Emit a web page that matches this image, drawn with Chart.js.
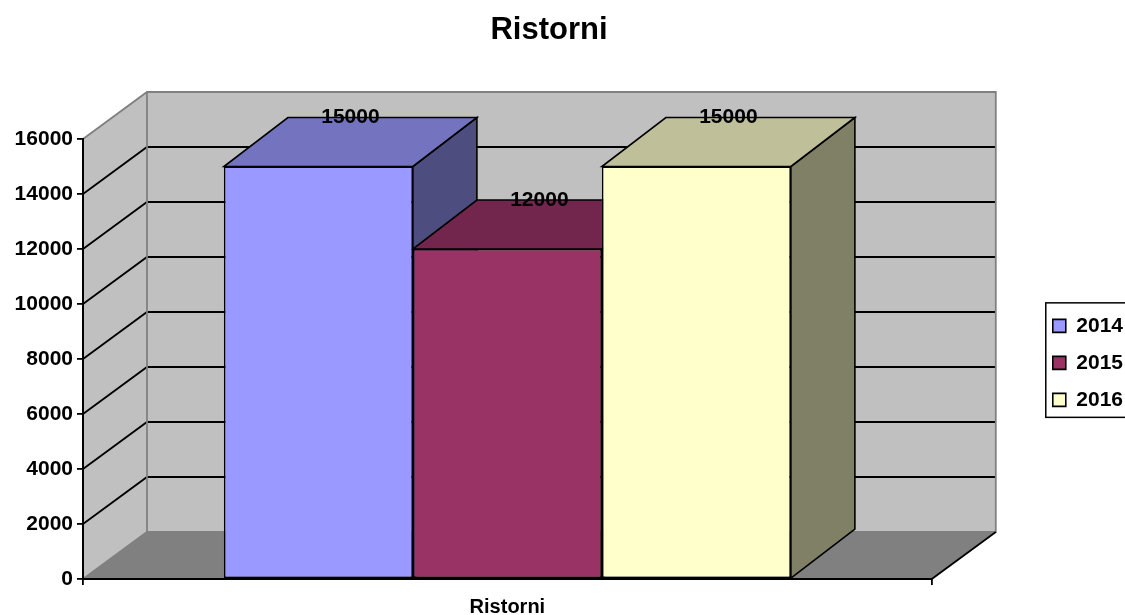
<!DOCTYPE html>
<html>
<head>
<meta charset="utf-8">
<title>Ristorni</title>
<script src="https://cdn.jsdelivr.net/npm/chart.js@4.4.1/dist/chart.umd.min.js"></script>
<style>
    html, body { margin: 0; padding: 0; background: #fff; }
    #wrap { width: 1125px; height: 615px; }
</style>
</head>
<body>
<div id="wrap"><canvas id="ristorniChart"></canvas></div>
<script>
/****************************** Data ********************************/
const categories = ['Ristorni'];
const seriesNames = ['2014', '2015', '2016'];
const values2014 = [15000];
const values2015 = [12000];
const values2016 = [15000];
const yTicks = [0, 2000, 4000, 6000, 8000, 10000, 12000, 14000, 16000];

const seriesValues = [values2014, values2015, values2016];
const barColors = ['#9999FF', '#993366', '#FFFFCC'];

/****************************** 3D look ********************************/
const wallDepth = { x: 64, y: 47 };  // offset of the back wall from the front plane
const barDepth = { x: 64, y: 49 };   // depth of each column

// darker version of a colour for the top / side faces
function shade(hex, f) {
    const n = parseInt(hex.slice(1), 16);
    const r = Math.round(((n >> 16) & 255) * f);
    const g = Math.round(((n >> 8) & 255) * f);
    const b = Math.round((n & 255) * f);
    return 'rgb(' + r + ',' + g + ',' + b + ')';
}

function path(ctx, pts) {
    ctx.beginPath();
    ctx.moveTo(pts[0][0], pts[0][1]);
    for (let i = 1; i < pts.length; i++) ctx.lineTo(pts[i][0], pts[i][1]);
}

const walls3d = {
    id: 'walls3d',
    afterLayout(chart) {
        // Excel centres the title a bit left of the canvas centre
        const t = chart.titleBlock;
        t.right = t.left + 1098;
    },
    beforeDraw(chart) {
        const { ctx, chartArea: a } = chart;
        const y = chart.scales.y;
        const dx = wallDepth.x, dy = wallDepth.y;
        const top = y.getPixelForValue(yTicks[yTicks.length - 1]);
        const bottom = y.getPixelForValue(yTicks[0]);

        ctx.save();
        // side wall + back wall
        ctx.fillStyle = '#C0C0C0';
        path(ctx, [[a.left, bottom], [a.left, top], [a.left + dx, top - dy], [a.left + dx, bottom - dy]]);
        ctx.closePath();
        ctx.fill();
        ctx.fillRect(a.left + dx, top - dy, a.right - a.left, bottom - top);

        // floor
        ctx.fillStyle = '#808080';
        path(ctx, [[a.left, bottom], [a.right, bottom], [a.right + dx, bottom - dy], [a.left + dx, bottom - dy]]);
        ctx.closePath();
        ctx.fill();

        // grid lines: diagonal on the side wall, horizontal on the back wall
        ctx.strokeStyle = '#000';
        ctx.lineWidth = 1.8;
        yTicks.slice(1, -1).forEach(v => {
            const p = y.getPixelForValue(v);
            path(ctx, [[a.left, p], [a.left + dx, p - dy], [a.right + dx, p - dy]]);
            ctx.stroke();
        });

        // gray wall edges
        ctx.strokeStyle = '#808080';
        ctx.lineWidth = 1.8;
        path(ctx, [[a.left, top], [a.left + dx, top - dy], [a.right + dx, top - dy], [a.right + dx, bottom - dy], [a.left + dx, bottom - dy], [a.left, bottom]]);
        ctx.stroke();
        path(ctx, [[a.left + dx, top - dy], [a.left + dx, bottom - dy]]);
        ctx.stroke();

        // front-right floor edge is black
        ctx.strokeStyle = '#000';
        path(ctx, [[a.right, bottom], [a.right + dx, bottom - dy]]);
        ctx.stroke();
        ctx.restore();
    },
    beforeDatasetsDraw(chart) {
        const ctx = chart.ctx;
        const dx = barDepth.x, dy = barDepth.y;
        ctx.save();
        ctx.strokeStyle = '#000';
        ctx.lineWidth = 1.6;
        chart.data.datasets.forEach((ds, i) => {
            const meta = chart.getDatasetMeta(i);
            if (meta.hidden) return;
            meta.data.forEach(bar => {
                const { x, y, base, width } = bar.getProps(['x', 'y', 'base', 'width'], true);
                const l = x - width / 2, r = x + width / 2;
                // side face
                path(ctx, [[r, y], [r + dx, y - dy], [r + dx, base - dy], [r, base]]);
                ctx.closePath();
                ctx.fillStyle = shade(ds.backgroundColor, 0.5);
                ctx.fill();
                ctx.stroke();
                // top face
                path(ctx, [[l, y], [r, y], [r + dx, y - dy], [l + dx, y - dy]]);
                ctx.closePath();
                ctx.fillStyle = shade(ds.backgroundColor, 0.75);
                ctx.fill();
                ctx.stroke();
            });
        });
        ctx.restore();
    },
    afterDatasetsDraw(chart) {
        const ctx = chart.ctx;
        ctx.save();
        ctx.fillStyle = '#000';
        ctx.font = 'bold 21px "Liberation Sans", Arial, sans-serif';
        ctx.textAlign = 'center';
        ctx.textBaseline = 'middle';
        chart.data.datasets.forEach((ds, i) => {
            const meta = chart.getDatasetMeta(i);
            meta.data.forEach((bar, j) => {
                const { x, y } = bar.getProps(['x', 'y'], true);
                ctx.fillText(String(ds.data[j]), x + barDepth.x / 2, y - barDepth.y);
            });
        });
        ctx.restore();
    },
    afterDraw(chart) {
        // box round the legend, runs off the right edge like the original
        const boxes = chart.legend.legendHitBoxes;
        if (!boxes.length) return;
        const first = boxes[0], last = boxes[boxes.length - 1];
        const top = first.top - 12.5;
        const bottom = last.top + last.height + 7;
        const ctx = chart.ctx;
        ctx.save();
        ctx.strokeStyle = '#000';
        ctx.lineWidth = 1.5;
        ctx.strokeRect(first.left - 7, top, chart.width + 20 - first.left, bottom - top);
        ctx.restore();
    }
};

/****************************** Chart ********************************/
Chart.defaults.font.family = '"Liberation Sans", Arial, sans-serif';
Chart.defaults.font.weight = 'bold';
Chart.defaults.color = '#000';

new Chart(document.getElementById('ristorniChart'), {
    type: 'bar',
    data: {
        labels: categories,
        datasets: seriesNames.map((name, i) => ({
            label: name,
            data: seriesValues[i],
            backgroundColor: barColors[i],
            borderColor: '#000',
            borderWidth: 1.6,
            borderSkipped: false,
            categoryPercentage: 0.668,
            barPercentage: 1
        }))
    },
    options: {
        responsive: true,
        maintainAspectRatio: false,
        animation: false,
        events: [],
        layout: { padding: { left: 0, right: -8, top: 0, bottom: 0 } },
        scales: {
            x: {
                grid: { display: true, drawOnChartArea: false, drawTicks: true, tickLength: 6, color: '#000', lineWidth: 1.8 },
                border: { display: true, color: '#000', width: 2 },
                ticks: { color: '#000', font: { size: 20, weight: 'bold' }, padding: 10 },
                afterFit: s => { s.height = 36; }
            },
            y: {
                min: yTicks[0],
                max: yTicks[yTicks.length - 1],
                afterBuildTicks: s => { s.ticks = yTicks.map(v => ({ value: v })); },
                grid: { display: true, drawOnChartArea: false, drawTicks: true, tickLength: 6, color: '#000', lineWidth: 1.8 },
                border: { display: true, color: '#000', width: 2 },
                ticks: { color: '#000', font: { size: 21, weight: 'bold' }, padding: 4, callback: v => String(v) },
                afterFit: s => { s.width = 83; }
            },
            // empty axis on the right, only keeps room for the depth of the walls
            depth: {
                type: 'linear',
                position: 'right',
                display: true,
                grid: { display: false },
                border: { display: false },
                ticks: { display: false },
                afterFit: s => { s.width = 105; }
            }
        },
        plugins: {
            title: {
                display: true,
                text: 'Ristorni',
                color: '#000',
                font: { size: 31, weight: 'bold' },
                padding: { top: 12, bottom: 89.8 }
            },
            legend: {
                position: 'right',
                fullSize: false,
                align: 'center',
                // empty title, only pushes the items a few pixels down
                title: { display: true, text: '', font: { size: 1 }, padding: { top: 3, bottom: 3.5 } },
                labels: {
                    boxWidth: 13,
                    boxHeight: 13,
                    padding: 16,
                    color: '#000',
                    font: { size: 21, weight: 'bold' }
                }
            },
            tooltip: { enabled: false }
        }
    },
    plugins: [walls3d]
});
</script>
</body>
</html>
